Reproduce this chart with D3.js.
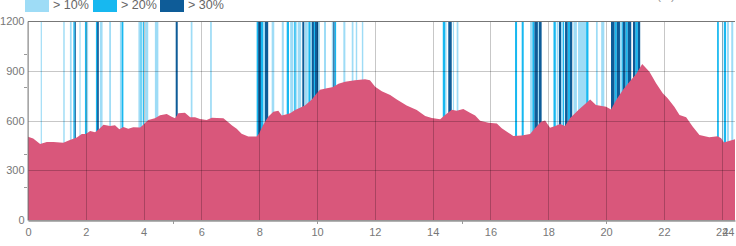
<!DOCTYPE html>
<html>
<head>
<meta charset="utf-8">
<script src="https://cdn.jsdelivr.net/npm/d3@7"></script>
<style>
  body { margin: 0; background: #fff; }
  svg { display: block; font-family: "Liberation Sans", Arial, sans-serif; }
</style>
</head>
<body>
<div id="chart"></div>
<script>
// distance (km) and elevation (m)
const distKm = [0, 0.18, 0.42, 0.65, 0.88, 1.22, 1.45, 1.69, 1.86, 2.0, 2.15, 2.32, 2.49, 2.61, 2.84, 3.01,
  3.16, 3.3, 3.47, 3.64, 3.88, 3.99, 4.16, 4.39, 4.57, 4.8, 4.97, 5.09, 5.2, 5.43, 5.61, 5.78, 5.95,
  6.18, 6.36, 6.54, 6.76, 6.93, 7.06, 7.22, 7.39, 7.62, 7.91, 7.99, 8.14, 8.31, 8.49, 8.66, 8.78, 8.95,
  9.07, 9.24, 9.58, 9.82, 9.97, 10.1, 10.34, 10.56, 10.74, 10.97, 11.31, 11.66, 11.83, 12.01, 12.24,
  12.53, 12.76, 13.1, 13.45, 13.74, 13.97, 14.26, 14.43, 14.66, 14.83, 15.06, 15.29, 15.47, 15.64,
  15.93, 16.22, 16.39, 16.62, 16.79, 17.08, 17.37, 17.54, 17.75, 17.89, 18.06, 18.24, 18.41, 18.58,
  18.75, 19.04, 19.45, 19.65, 20.0, 20.17, 20.35, 20.58, 20.81, 21.04, 21.25, 21.5, 21.73, 21.96,
  22.13, 22.36, 22.54, 22.77, 23.0, 23.23, 23.57, 23.86, 23.98, 24.08, 24.22, 24.46];
const elevM = [502, 492, 458, 470, 470, 466, 482, 498, 518, 518, 537, 529, 553, 575, 567, 571,
  547, 561, 551, 559, 558, 575, 603, 613, 631, 639, 622, 613, 643, 647, 620, 620, 609,
  603, 616, 615, 613, 590, 570, 550, 520, 503, 503, 520, 575, 623, 653, 659, 630, 637,
  643, 663, 690, 726, 760, 785, 794, 802, 822, 834, 842, 848, 842, 804, 776,
  754, 726, 690, 663, 627, 615, 607, 633, 665, 659, 670, 647, 630, 598,
  587, 582, 553, 526, 507, 510, 519, 553, 593, 600, 556, 567, 579, 567,
  613, 663, 726, 693, 683, 667, 724, 784, 834, 880, 941, 894, 824, 764,
  734, 683, 633, 619, 563, 513, 499, 505, 493, 468, 475, 487];

// steep sections [from km, to km] by gradient class
const grade10 = [[0.44, 0.48], [1.22, 1.27], [1.45, 1.51], [1.78, 1.82], [2.03, 2.08], [2.49, 2.58],
  [2.81, 2.87], [3.18, 3.24], [3.82, 3.88], [4.05, 4.16], [4.39, 4.51], [5.63, 5.69], [6.30, 6.36],
  [8.13, 8.20], [8.43, 8.52], [8.78, 8.85], [9.07, 9.18], [9.26, 9.30], [9.33, 9.45], [9.58, 9.68],
  [9.76, 9.82], [10.04, 10.10], [10.24, 10.31], [10.51, 10.56], [10.91, 10.98], [11.20, 11.26],
  [11.34, 11.39], [11.55, 11.60], [14.43, 14.48], [14.70, 14.74], [14.83, 14.89], [17.37, 17.45],
  [17.64, 17.68], [18.29, 18.35], [18.44, 18.51], [18.87, 18.99], [19.03, 19.31], [19.65, 19.71],
  [19.83, 19.94], [20.48, 20.54], [20.94, 21.00], [24.01, 24.06], [24.18, 24.25], [24.33, 24.40]];
const grade20 = [[1.57, 1.62], [1.97, 2.03], [2.35, 2.39], [3.24, 3.30], [3.89, 3.93], [3.97, 4.01],
  [7.91, 7.96], [8.06, 8.13], [8.95, 9.03], [9.21, 9.26], [9.70, 9.77], [9.87, 9.93], [10.60, 10.66],
  [14.35, 14.43], [16.85, 16.92], [17.08, 17.15], [17.45, 17.52], [18.18, 18.26], [18.51, 18.55],
  [18.67, 18.75], [19.31, 19.39], [20.29, 20.37], [20.54, 20.58], [20.67, 20.75], [21.01, 21.10],
  [23.84, 23.90], [24.08, 24.15]];
const grade30 = [[1.62, 1.64], [2.39, 2.45], [5.11, 5.18], [7.96, 8.06], [8.20, 8.31], [9.49, 9.56],
  [9.82, 9.89], [9.93, 10.04], [10.56, 10.60], [14.54, 14.66], [17.52, 17.64], [17.68, 17.77],
  [18.37, 18.44], [18.58, 18.67], [18.75, 18.83], [20.17, 20.29], [20.37, 20.48], [20.58, 20.67],
  [20.75, 20.87], [20.93, 21.01], [21.10, 21.18]];

const legendLabels = ['> 10%', '> 20%', '> 30%'];
const xTicks = [0, 2, 4, 6, 8, 10, 12, 14, 16, 18, 20, 22, 24];
const xMinorTicks = [5, 10, 15, 20];
const yTicks = [0, 300, 600, 900, 1200];
const yMinorTicks = [200, 400, 800, 1000];

const width = 736, height = 246;
const margin = { top: 21, right: 1, bottom: 26, left: 28 };
const colors = ['#9edcf6', '#17b8f0', '#0e5c98'];

const svg = d3.select('#chart').append('svg')
  .attr('width', width)
  .attr('height', height);

const maxKm = d3.max(distKm);
const x = d3.scaleLinear().domain([0, maxKm]).range([margin.left, width - margin.right]);
const y = d3.scaleLinear().domain([0, 1200]).range([height - margin.bottom, margin.top]);

// gradient bands behind the profile
[grade10, grade20, grade30].forEach((bands, i) => {
  svg.append('g').selectAll('rect')
    .data(bands)
    .join('rect')
    .attr('x', d => x(d[0]))
    .attr('width', d => Math.max(1, x(d[1]) - x(d[0])))
    .attr('y', y(1200))
    .attr('height', y(0) - y(1200))
    .attr('fill', colors[i]);
});

const profile = distKm.map((d, i) => ({ km: d, m: elevM[i] }));
const area = d3.area()
  .x(d => x(d.km))
  .y0(y(0))
  .y1(d => y(d.m));

svg.append('path')
  .datum(profile)
  .attr('d', area)
  .attr('fill', '#d9577b');

// grid on top of everything
const grid = svg.append('g').attr('stroke', 'rgba(0,0,0,0.22)').attr('stroke-width', 1);
grid.selectAll('.vx')
  .data(xTicks)
  .join('line')
  .attr('x1', d => Math.round(x(d)) + 0.5)
  .attr('x2', d => Math.round(x(d)) + 0.5)
  .attr('y1', y(1200))
  .attr('y2', y(0));
grid.selectAll('.hy')
  .data(yTicks)
  .join('line')
  .attr('x1', x(0))
  .attr('x2', x(maxKm))
  .attr('y1', d => Math.round(y(d)) + 0.5)
  .attr('y2', d => Math.round(y(d)) + 0.5);

// frame line on top
svg.append('line')
  .attr('x1', x(0)).attr('x2', x(maxKm))
  .attr('y1', Math.round(y(1200)) + 0.5).attr('y2', Math.round(y(1200)) + 0.5)
  .attr('stroke', '#777');

const xAxis = d3.axisBottom(x)
  .tickValues(xTicks.concat([maxKm]))
  .tickSize(0)
  .tickPadding(8)
  .tickFormat(d => Math.floor(d));

const gx = svg.append('g')
  .attr('transform', `translate(0, ${Math.round(y(0)) + 0.5})`)
  .call(xAxis);
gx.select('.domain').attr('stroke', '#666');
gx.selectAll('text').attr('fill', '#777').attr('font-size', 11).attr('font-family', null);
// last label (end of the track) sits flush with the right edge
gx.selectAll('.tick').filter(d => d === maxKm).select('text')
  .attr('text-anchor', 'end')
  .attr('dx', -1);

svg.append('g').selectAll('line')
  .data(xMinorTicks)
  .join('line')
  .attr('x1', d => Math.round(x(d)) + 0.5)
  .attr('x2', d => Math.round(x(d)) + 0.5)
  .attr('y1', y(0) + 1)
  .attr('y2', y(0) + 4)
  .attr('stroke', '#999');

const yAxis = d3.axisLeft(y)
  .tickValues(yTicks)
  .tickSize(0)
  .tickPadding(3)
  .tickFormat(d3.format('d'));

const gy = svg.append('g')
  .attr('transform', `translate(${Math.round(x(0)) - 0.5}, 0)`)
  .call(yAxis);
gy.select('.domain').attr('stroke', '#888');
gy.selectAll('text').attr('fill', '#777').attr('font-size', 11).attr('font-family', null);

svg.append('g').selectAll('line')
  .data(yMinorTicks)
  .join('line')
  .attr('x1', x(0) - 4)
  .attr('x2', x(0) - 1)
  .attr('y1', d => Math.round(y(d)) + 0.5)
  .attr('y2', d => Math.round(y(d)) + 0.5)
  .attr('stroke', '#999');

// legend, cut off at the top edge like the original
const legendX = [25, 93, 160];
const legend = svg.append('g');
legendLabels.forEach((label, i) => {
  legend.append('rect')
    .attr('x', legendX[i])
    .attr('y', -3)
    .attr('width', 24)
    .attr('height', 15)
    .attr('fill', colors[i]);
  legend.append('text')
    .attr('x', legendX[i] + 28)
    .attr('y', 9)
    .attr('font-size', 12.5)
    .attr('fill', '#666')
    .text(label);
});

svg.append('text')
  .attr('x', 675)
  .attr('y', -1)
  .attr('text-anchor', 'end')
  .attr('font-size', 12)
  .attr('fill', '#999')
  .text('Höhe (m)');
</script>
</body>
</html>
